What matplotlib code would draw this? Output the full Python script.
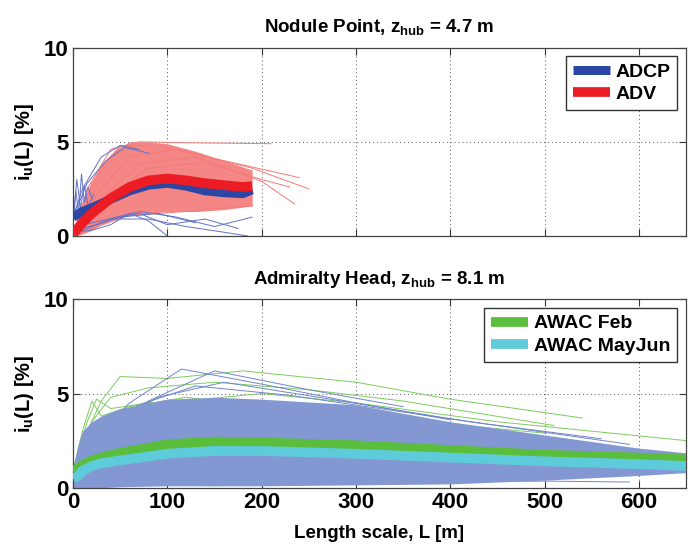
#!/usr/bin/env python3
"""Turbulence intensity vs length scale at two sites (Nodule Point, Admiralty Head)."""
import matplotlib
matplotlib.use("Agg")
import matplotlib.pyplot as plt

# ---- Nodule Point (top) ----
# spread of the individual ADV curves (upper / lower envelope of the dense band)
adv_env_L = [0, 10, 20, 30, 45, 60, 80, 100, 130, 160, 190]
adv_env_hi = [0.3, 1.8, 2.9, 3.8, 4.6, 5.0, 5.0, 4.9, 4.5, 4.0, 3.5]
adv_env_lo = [0.0, 0.1, 0.3, 0.6, 0.9, 1.1, 1.2, 1.3, 1.3, 1.4, 1.6]

# a few individual ADV curves that stand out from the band
adv_lines = [
    ([0, 15, 40, 70, 120, 210], [0.0, 2.5, 4.6, 5.0, 4.95, 4.9]),
    ([0, 20, 50, 90, 160, 240], [0.0, 2.8, 4.8, 4.8, 4.0, 3.1]),
    ([0, 25, 60, 110, 190, 250], [0.0, 2.2, 4.2, 4.6, 3.6, 2.5]),
    ([0, 30, 70, 130, 200, 235], [0.0, 2.0, 3.8, 4.2, 2.9, 1.7]),
    ([0, 30, 80, 140, 200, 230], [0.0, 1.8, 3.6, 3.9, 3.0, 2.6]),
    ([0, 20, 60, 120, 190], [0.0, 0.4, 1.1, 1.3, 1.6]),
]

# individual ADCP curves
adcp_lines = [
    ([0, 3, 6, 9, 12, 16, 20], [0.5, 2.4, 1.2, 3.3, 1.8, 2.6, 2.0]),
    ([0, 4, 8, 12, 16, 22], [0.8, 3.0, 1.5, 2.7, 1.6, 2.2]),
    ([0, 10, 30, 50, 70], [1.0, 2.5, 4.2, 4.8, 4.6]),
    ([0, 15, 35, 55, 80], [1.0, 2.8, 4.0, 4.7, 4.4]),
    ([0, 20, 40, 60, 80, 100], [0.2, 0.3, 0.6, 1.2, 0.8, 0.0]),
    ([0, 30, 70, 110, 150, 190], [0.5, 0.8, 1.3, 1.0, 0.5, 1.0]),
    ([40, 80, 120, 160, 185], [0.9, 0.9, 0.5, 0.2, 0.0]),
    ([10, 40, 70, 100, 140, 175], [0.3, 0.9, 1.2, 0.6, 0.9, 0.4]),
    ([0, 25, 50, 90, 130], [0.3, 0.6, 1.0, 1.2, 0.7]),
]

# mean curves
np_L = [0, 10, 20, 40, 60, 80, 100, 120, 140, 160, 180, 190]
adv_mean = [0.1, 0.7, 1.2, 2.0, 2.6, 2.95, 3.05, 2.95, 2.8, 2.7, 2.6, 2.65]
adcp_mean = [1.0, 1.3, 1.5, 1.95, 2.4, 2.7, 2.8, 2.65, 2.4, 2.3, 2.25, 2.45]

# ---- Admiralty Head (bottom) ----
ah_env_L = [0, 5, 10, 20, 30, 50, 100, 150, 200, 300, 400, 500, 600, 650]
ah_env_hi = [1.0, 2.2, 3.0, 3.5, 3.8, 4.2, 4.7, 4.8, 4.7, 4.4, 3.5, 2.8, 2.1, 1.85]
ah_env_lo = [0.0, 0.0, 0.0, 0.0, 0.0, 0.05, 0.1, 0.1, 0.1, 0.15, 0.2, 0.4, 0.65, 0.8]

mayjun_lines = [
    ([0, 20, 60, 115, 200, 300, 400], [0.8, 2.5, 4.5, 6.3, 5.5, 4.5, 3.6]),
    ([0, 30, 80, 150, 250, 350], [0.8, 2.8, 4.6, 6.2, 5.2, 4.3]),
    ([0, 30, 90, 160, 260, 420, 560], [0.8, 3.0, 4.8, 5.6, 4.8, 3.5, 2.6]),
    ([0, 25, 70, 130, 230, 380, 590], [0.8, 3.2, 4.4, 5.4, 4.9, 3.8, 2.3]),
    ([0, 100, 300, 500, 590], [0.3, 0.3, 0.3, 0.35, 0.3]),
    ([0, 150, 350, 520], [0.2, 0.35, 0.4, 0.5]),
]

feb_lines = [
    ([0, 15, 30, 50, 100, 180, 300, 400, 540], [0.9, 3.0, 4.6, 5.9, 5.8, 6.2, 5.6, 4.7, 3.7]),
    ([0, 20, 40, 80, 150, 250, 350, 510], [0.9, 3.5, 4.8, 5.3, 5.6, 5.2, 4.6, 3.3]),
    ([0, 30, 100, 200, 300, 450, 650], [0.9, 3.2, 4.5, 5.0, 4.5, 3.5, 2.5]),
    ([0, 10, 20, 30, 60, 120, 250, 400, 560], [0.9, 3.0, 4.6, 3.8, 4.3, 4.8, 4.0, 3.1, 2.3]),
    ([0, 15, 25, 40, 80, 200, 350, 500], [0.9, 3.5, 4.7, 4.2, 4.5, 4.3, 3.6, 2.9]),
    ([0, 50, 150, 300, 450, 600], [0.5, 0.2, 0.1, 0.3, 0.6, 0.8]),
]

ah_L = [0, 5, 10, 20, 30, 50, 100, 150, 200, 300, 400, 500, 600, 650]
feb_mean = [0.9, 1.0, 1.2, 1.45, 1.6, 1.85, 2.3, 2.45, 2.4, 2.25, 2.0, 1.75, 1.6, 1.5]
mayjun_mean = [0.5, 0.6, 0.9, 1.15, 1.3, 1.45, 1.8, 1.95, 1.95, 1.8, 1.6, 1.4, 1.25, 1.15]

X_MAX = 650
X_TICKS = [0, 100, 200, 300, 400, 500, 600]
Y_TICKS = [0, 5, 10]

plt.rcParams["font.family"] = ["Liberation Sans", "DejaVu Sans"]
plt.rcParams["font.weight"] = "bold"

LEGEND_KW = dict(loc="upper right", prop={"weight": "bold", "size": 14},
                 fancybox=False, edgecolor="#333333", framealpha=1, handlelength=1.9,
                 borderpad=0.35, labelspacing=0.25, handletextpad=0.3,
                 borderaxespad=0.45)


def style_axes(ax, show_xlabels):
    ax.set_xlim(0, X_MAX)
    ax.set_ylim(0, 10)
    ax.set_xticks(X_TICKS)
    ax.set_yticks(Y_TICKS)
    ax.tick_params(direction="in", top=True, right=True, labelsize=16, pad=3,
                   length=5, width=0.8, colors="#333333", labelcolor="black")
    if not show_xlabels:
        ax.set_xticklabels([])
    for lab in ax.get_xticklabels() + ax.get_yticklabels():
        lab.set_fontweight("bold")
    ax.grid(True, linestyle=(0, (1, 3)), color="#555555", linewidth=0.7)
    for s in ax.spines.values():
        s.set_color("#444444")
        s.set_linewidth(0.9)
    ax.set_ylabel(r"i$_\mathregular{u}$(L) [%]", fontsize=14.5, fontweight="bold", labelpad=6)


def main():
    fig = plt.figure(figsize=(6.96, 5.46), dpi=100)
    ax1 = fig.add_axes([0.1049, 0.5678, 0.8807, 0.3449])
    ax2 = fig.add_axes([0.1049, 0.1068, 0.8807, 0.3450])

    # top: Nodule Point
    ax1.fill_between(adv_env_L, adv_env_lo, adv_env_hi, color="#f48686", lw=0, zorder=2)
    for L, v in adcp_lines:
        ax1.plot(L, v, color="#6273c8", lw=0.7, zorder=2.2)
    for L, v in adv_lines:
        ax1.plot(L, v, color="#f47a7a", lw=0.7, zorder=2.1)
    ax1.plot(np_L, adcp_mean, color="#2b46a3", lw=6.5, solid_capstyle="butt",
             label="ADCP", zorder=3)
    ax1.plot(np_L, adv_mean, color="#ec1c24", lw=7, solid_capstyle="butt",
             label="ADV", zorder=4)
    style_axes(ax1, False)
    ax1.set_title(r"Nodule Point, z$_\mathregular{hub}$ = 4.7 m", fontsize=13.5,
                  fontweight="bold", pad=11)
    ax1.legend(**LEGEND_KW)

    # bottom: Admiralty Head
    ax2.fill_between(ah_env_L, ah_env_lo, ah_env_hi, color="#8398d2", lw=0, zorder=2)
    for L, v in feb_lines:
        ax2.plot(L, v, color="#7ccc5c", lw=0.7, zorder=1.8)
    for L, v in mayjun_lines:
        ax2.plot(L, v, color="#6f86cc", lw=0.7, zorder=1.9)
    ax2.plot(ah_L, feb_mean, color="#5bbd3c", lw=7, solid_capstyle="butt",
             label="AWAC Feb", zorder=3)
    ax2.plot(ah_L, mayjun_mean, color="#5ecbdb", lw=7, solid_capstyle="butt",
             label="AWAC MayJun", zorder=4)
    style_axes(ax2, True)
    ax2.set_title(r"Admiralty Head, z$_\mathregular{hub}$ = 8.1 m", fontsize=13.5,
                  fontweight="bold", pad=11)
    ax2.set_xlabel("Length scale, L [m]", fontsize=13.5, fontweight="bold", labelpad=9)
    ax2.legend(**LEGEND_KW)

    fig.savefig("out.png", dpi=100)
    plt.close(fig)


if __name__ == "__main__":
    main()
